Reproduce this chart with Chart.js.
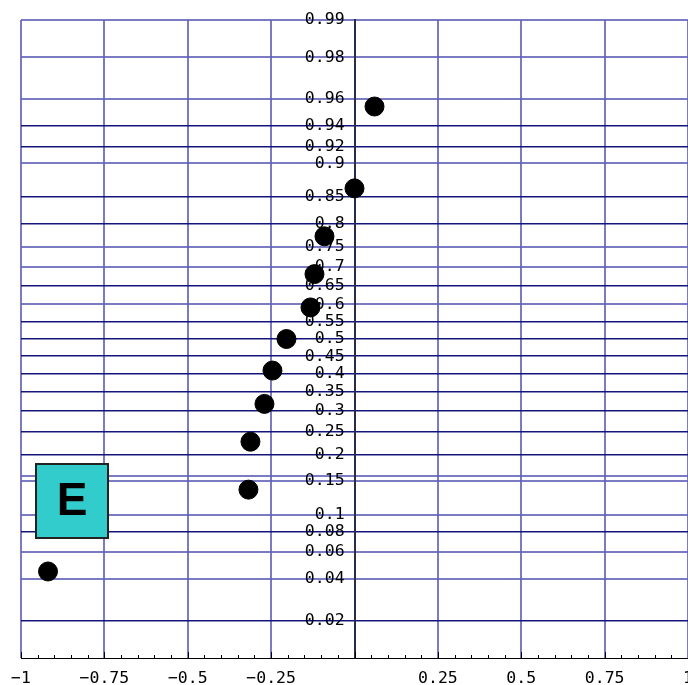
<!DOCTYPE html>
<html>
<head>
<meta charset="utf-8">
<script src="https://cdn.jsdelivr.net/npm/chart.js@4/dist/chart.umd.min.js"></script>
<style>
  html, body { margin: 0; padding: 0; background: #fff; }
  #wrap { width: 688px; height: 685px; position: relative; }
</style>
</head>
<body>
<div id="wrap"><canvas id="probPlot"></canvas></div>
<script>
// --- Data ---
const sampleX = [-0.919, -0.318, -0.312, -0.27, -0.246, -0.204, -0.132, -0.12, -0.09, 0.0, 0.06];
const plotProb = [0.045, 0.136, 0.227, 0.318, 0.409, 0.5, 0.591, 0.682, 0.773, 0.864, 0.955];

const probTicks = [0.02, 0.04, 0.06, 0.08, 0.1, 0.15, 0.1587, 0.2, 0.25, 0.3, 0.35, 0.4, 0.45, 0.5,
                   0.55, 0.6, 0.65, 0.7, 0.75, 0.8, 0.85, 0.9, 0.92, 0.94, 0.96, 0.98, 0.99];
const probTickLabels = ['0.02', '0.04', '0.06', '0.08', '0.1', '0.15', '', '0.2', '0.25', '0.3', '0.35', '0.4', '0.45', '0.5',
                        '0.55', '0.6', '0.65', '0.7', '0.75', '0.8', '0.85', '0.9', '0.92', '0.94', '0.96', '0.98', '0.99'];
const xTicks = [-1, -0.75, -0.5, -0.25, 0.25, 0.5, 0.75, 1];
const xTickLabels = ['\u22121', '\u22120.75', '\u22120.5', '\u22120.25', '0.25', '0.5', '0.75', '1'];
const panelLabel = 'E';

// --- Styles ---
const LIGHT = 'rgba(100,100,185,0.85)';
const DARK = '#14147a';
const lightProbs = new Set([0.99, 0.98, 0.96, 0.9, 0.75, 0.7, 0.6, 0.15, 0.1587, 0.1, 0.06, 0.04]);
const tickFont = { family: 'DejaVu Sans Mono', size: 16.5 };

// inverse normal CDF (Acklam)
function probit(p) {
    const a = [-3.969683028665376e+01, 2.209460984245205e+02, -2.759285104469687e+02, 1.383577518672690e+02, -3.066479806614716e+01, 2.506628277459239e+00];
    const b = [-5.447609879822406e+01, 1.615858368580409e+02, -1.556989798598866e+02, 6.680131188771972e+01, -1.328068155288572e+01];
    const c = [-7.784894002430293e-03, -3.223964580411365e-01, -2.400758277161838e+00, -2.549732539343734e+00, 4.374664141464968e+00, 2.938163982698783e+00];
    const d = [7.784695709041462e-03, 3.224671290700398e-01, 2.445134137142996e+00, 3.754408661907416e+00];
    const pl = 0.02425;
    let q, r;
    if (p < pl) {
        q = Math.sqrt(-2 * Math.log(p));
        return (((((c[0]*q+c[1])*q+c[2])*q+c[3])*q+c[4])*q+c[5]) / ((((d[0]*q+d[1])*q+d[2])*q+d[3])*q+1);
    }
    if (p > 1 - pl) {
        q = Math.sqrt(-2 * Math.log(1 - p));
        return -(((((c[0]*q+c[1])*q+c[2])*q+c[3])*q+c[4])*q+c[5]) / ((((d[0]*q+d[1])*q+d[2])*q+d[3])*q+1);
    }
    q = p - 0.5; r = q * q;
    return (((((a[0]*r+a[1])*r+a[2])*r+a[3])*r+a[4])*r+a[5])*q / (((((b[0]*r+b[1])*r+b[2])*r+b[3])*r+b[4])*r+1);
}

const points = sampleX.map((x, i) => ({ x: x, y: probit(plotProb[i]) }));

const noPadding = s => { s.paddingLeft = 0; s.paddingRight = 0; s.paddingTop = 0; s.paddingBottom = 0; };

// --- Plugins ---
// let the plot run to the right edge of the canvas like the original
const fullWidth = {
    id: 'fullWidth',
    afterLayout(chart) {
        const xs = chart.scales.x;
        chart.chartArea.right = chart.width;
        chart.chartArea.width = chart.chartArea.right - chart.chartArea.left;
        xs.right = chart.width;
        xs.width = xs.right - xs.left;
        xs.configure();
    }
};

const minorTicks = {
    id: 'minorTicks',
    afterDatasetsDraw(chart) {
        const ctx = chart.ctx, xs = chart.scales.x, bottom = chart.chartArea.bottom;
        ctx.save();
        ctx.strokeStyle = '#000';
        ctx.lineWidth = 1;
        for (let i = -20; i <= 20; i++) {
            const px = Math.round(xs.getPixelForValue(i * 0.05)) + 0.5;
            const len = (i % 5 === 0) ? 6 : 3;
            ctx.beginPath();
            ctx.moveTo(px, bottom);
            ctx.lineTo(px, bottom - len);
            ctx.stroke();
        }
        ctx.restore();
    }
};

const panelBox = {
    id: 'panelBox',
    afterDraw(chart) {
        const ctx = chart.ctx;
        ctx.save();
        ctx.fillStyle = '#33cccc';
        ctx.strokeStyle = '#222';
        ctx.lineWidth = 2;
        ctx.fillRect(36, 464, 72, 74);
        ctx.strokeRect(36, 464, 72, 74);
        ctx.fillStyle = '#000';
        ctx.font = 'bold 46px "Liberation Sans", Arial, sans-serif';
        ctx.textAlign = 'center';
        ctx.textBaseline = 'middle';
        ctx.fillText(panelLabel, 72, 502);
        ctx.restore();
    }
};

// --- Chart ---
new Chart(document.getElementById('probPlot'), {
    type: 'scatter',
    data: {
        datasets: [{
            data: points,
            backgroundColor: '#000',
            borderColor: '#000',
            pointRadius: 9.5,
            pointHoverRadius: 9.5,
            clip: false
        }]
    },
    plugins: [fullWidth, minorTicks, panelBox],
    options: {
        responsive: true,
        maintainAspectRatio: false,
        animation: false,
        events: [],
        layout: { padding: { top: 20, left: 21, right: 0, bottom: 0 } },
        plugins: { legend: { display: false }, tooltip: { enabled: false } },
        scales: {
            x: {
                type: 'linear',
                position: 'bottom',
                min: -1, max: 1,
                afterBuildTicks: s => { s.ticks = xTicks.map(v => ({ value: v })); },
                afterFit: s => { noPadding(s); s.height = 27; },
                ticks: {
                    autoSkip: false, maxRotation: 0, padding: 12,
                    color: '#000', font: { ...tickFont, lineHeight: 1 },
                    callback: (v, i) => xTickLabels[i]
                },
                grid: { color: LIGHT, lineWidth: 2, drawTicks: false },
                border: { color: '#000', width: 1 }
            },
            y: {
                type: 'linear',
                position: { x: 0 },
                min: probit(0.01), max: probit(0.99),
                afterBuildTicks: s => { s.ticks = probTicks.map(p => ({ value: probit(p) })); },
                afterFit: noPadding,
                ticks: {
                    autoSkip: false, padding: 14,
                    color: '#000', font: tickFont,
                    // trailing space keeps the label clear of the axis line
                    callback: (v, i) => probTickLabels[i] ? probTickLabels[i] + '\u00a0' : ''
                },
                grid: {
                    color: c => lightProbs.has(probTicks[c.index]) ? LIGHT : DARK,
                    lineWidth: c => lightProbs.has(probTicks[c.index]) ? 2 : 1.5,
                    drawTicks: false
                },
                border: { color: '#2a2a4a', width: 2 }
            }
        }
    }
});
</script>
</body>
</html>
